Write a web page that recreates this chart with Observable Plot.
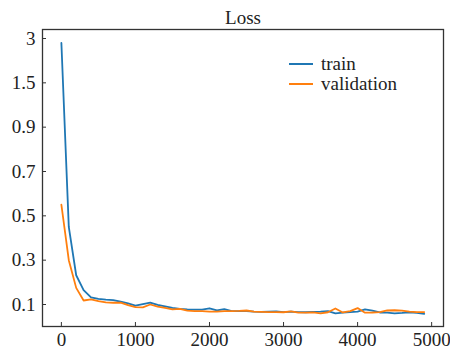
<!DOCTYPE html>
<html>
<head>
<meta charset="utf-8">
<script src="https://cdn.jsdelivr.net/npm/d3@7"></script>
<script src="https://cdn.jsdelivr.net/npm/@observablehq/plot@0.6"></script>
<style>
  html, body { margin: 0; padding: 0; background: #fff; }
  #wrap { position: relative; width: 450px; height: 352px; font-family: "Liberation Serif", "Times New Roman", serif; }
  #legend { position: absolute; left: 289px; top: 54px; font-size: 19px; color: #222; line-height: 20px; }
  #legend .item { display: flex; align-items: center; height: 20px; }
  #legend .sw { width: 24px; height: 2px; margin-right: 8px; }
</style>
</head>
<body>
<div id="wrap"></div>
<script>
// ---- data ----
const title = "Loss";
const steps = [0,100,200,300,400,500,600,700,800,900,1000,1100,1200,1300,1400,1500,1600,1700,1800,1900,2000,2100,2200,2300,2400,2500,2600,2700,2800,2900,3000,3100,3200,3300,3400,3500,3600,3700,3800,3900,4000,4100,4200,4300,4400,4500,4600,4700,4800,4900];
const train = [2.85,0.45,0.232,0.165,0.132,0.125,0.122,0.12,0.113,0.105,0.095,0.102,0.108,0.098,0.092,0.085,0.08,0.078,0.077,0.077,0.083,0.073,0.079,0.07,0.07,0.07,0.068,0.067,0.068,0.069,0.066,0.068,0.066,0.065,0.067,0.068,0.07,0.06,0.063,0.066,0.068,0.078,0.072,0.064,0.063,0.06,0.062,0.065,0.062,0.058];
const validation = [0.55,0.30,0.175,0.118,0.123,0.115,0.11,0.108,0.108,0.097,0.088,0.087,0.1,0.09,0.085,0.078,0.08,0.072,0.07,0.07,0.068,0.068,0.07,0.07,0.071,0.073,0.068,0.067,0.066,0.066,0.065,0.069,0.063,0.063,0.064,0.06,0.065,0.082,0.064,0.07,0.084,0.063,0.064,0.066,0.073,0.074,0.072,0.068,0.066,0.066];
const seriesNames = ["train", "validation"];
const seriesColors = ["#1f77b4", "#ff7f0e"];
const yTicks = [0.1, 0.3, 0.5, 0.7, 0.9, 1.5, 3];
const xTicks = [0, 1000, 2000, 3000, 4000, 5000];

// ---- build table ----
const rows = [];
[train, validation].forEach((vals, s) => {
  vals.forEach((v, i) => rows.push({series: seriesNames[s], step: steps[i], loss: v}));
});

const width = 450, height = 352;
const margin = {top: 29, right: 7, bottom: 26, left: 42};
const insetTop = 9, insetBottom = 22;
const font = "Liberation Serif, Times New Roman, serif";

const chart = Plot.plot({
  width, height,
  marginTop: margin.top, marginRight: margin.right, marginBottom: margin.bottom, marginLeft: margin.left,
  style: {fontFamily: font, fontSize: "19px", color: "#222", background: "#fff"},
  x: {type: "linear", domain: [-255, 5160]},
  y: {type: "linear", domain: yTicks, range: [height - margin.bottom - insetBottom, margin.top + insetTop]},
  color: {domain: seriesNames, range: seriesColors},
  marks: [
    Plot.frame({stroke: "#333", strokeWidth: 1.3}),
    Plot.axisX({ticks: xTicks, tickSize: -4, tickPadding: 10, tickFormat: d => String(d), stroke: "#333", fontSize: 19, label: null}),
    Plot.axisY({ticks: yTicks, tickSize: -4, tickPadding: 11, tickFormat: d => String(d), stroke: "#333", fontSize: 19, label: null}),
    Plot.line(rows, {x: "step", y: "loss", z: "series", stroke: "series", strokeWidth: 1.8}),
    Plot.text([title], {frameAnchor: "top", dy: -6, lineAnchor: "bottom", fontSize: 19, fill: "#222"})
  ]
});

const wrap = document.getElementById("wrap");
wrap.appendChild(chart);

const legend = document.createElement("div");
legend.id = "legend";
seriesNames.forEach((name, i) => {
  const item = document.createElement("div");
  item.className = "item";
  const sw = document.createElement("span");
  sw.className = "sw";
  sw.style.background = seriesColors[i];
  const label = document.createElement("span");
  label.textContent = name;
  item.appendChild(sw);
  item.appendChild(label);
  legend.appendChild(item);
});
wrap.appendChild(legend);
</script>
</body>
</html>
